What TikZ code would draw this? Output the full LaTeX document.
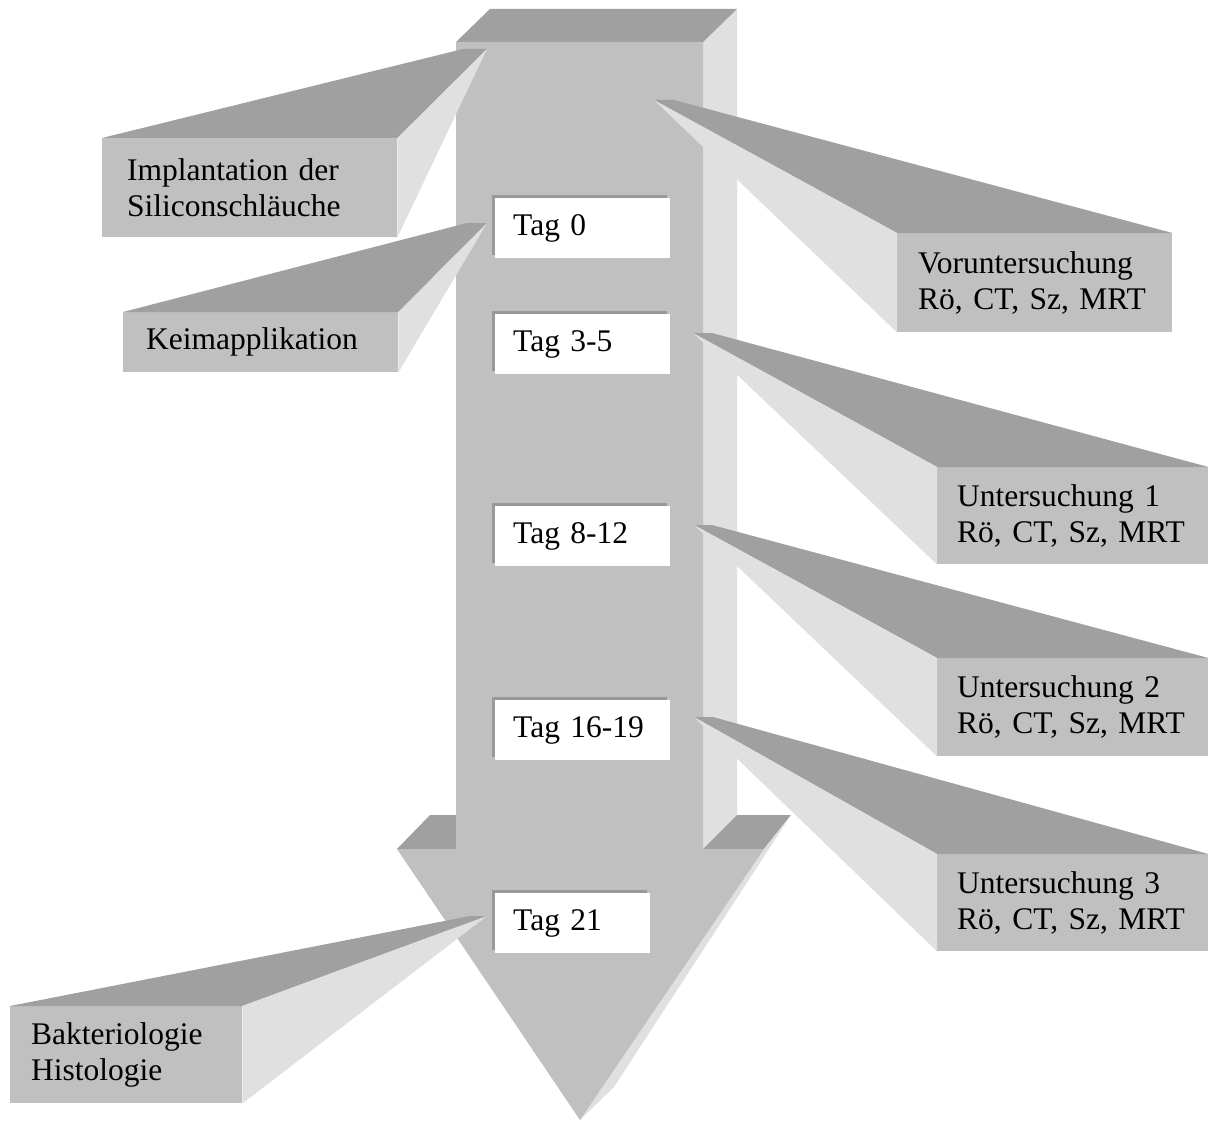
\documentclass[tikz,border=0pt]{standalone}
\usepackage{fontspec}
\setmainfont{Liberation Serif}
\usetikzlibrary{shadows}
\definecolor{frontgray}{HTML}{C0C0C0}
\definecolor{topgray}{HTML}{A0A0A0}
\definecolor{sidegray}{HTML}{E0E0E0}
\definecolor{edgegray}{HTML}{999999}

\begin{document}
\begin{tikzpicture}[
x=1pt, y=-1pt,
font=\fontsize{31.5}{36}\selectfont,
card/.style={rectangle, fill=frontgray, anchor=north west, inner xsep=21pt, inner ysep=0pt, align=left},
day/.style={rectangle, fill=white, anchor=north west, minimum height=60pt, inner xsep=18pt, inner ysep=0pt, align=left, general shadow={fill=edgegray, shadow xshift=-3pt, shadow yshift=3pt}},
topface/.style={fill=topgray},
sideface/.style={fill=sidegray}
]
\useasboundingbox (0,0) rectangle (1210,1121);

% the big arrow
\fill[sideface] (703,42) -- (737,9) -- (737,815) -- (703,849) -- cycle;
\fill[topface] (456,42) -- (490,9) -- (737,9) -- (703,42) -- cycle;
\fill[topface] (397,849) -- (430,815) -- (456,815) -- (456,849) -- cycle;
\fill[topface] (703,849) -- (737,815) -- (791,815) -- (764,849) -- cycle;
\fill[sideface] (764,849) -- (791,815) -- (614,1087) -- (580,1120) -- cycle;
\fill[frontgray] (456,42) -- (703,42) -- (703,849) -- (764,849) -- (580,1120) -- (397,849) -- (456,849) -- cycle;

% left callouts
\node[card, inner xsep=25pt, text width=245pt, minimum height=99pt] (impl) at (102,138) {Implantation der\\Siliconschläuche};
\coordinate (implF) at (487,49);
\fill[topface] (impl.north west) -- (impl.north east) -- (implF) -- ++(-24,0) -- cycle;
\fill[sideface] (impl.north east) -- (implF) -- (impl.south east) -- cycle;

\node[card, inner xsep=23pt, text width=229pt, minimum height=60pt] (keim) at (123,312) {Keimapplikation};
\coordinate (keimF) at (487,223);
\fill[topface] (keim.north west) -- (keim.north east) -- (keimF) -- ++(-20,0) -- cycle;
\fill[sideface] (keim.north east) -- (keimF) -- (keim.south east) -- cycle;

\node[card, text width=190pt, minimum height=97pt] (bakt) at (10,1006) {Bakteriologie\\Histologie};
\coordinate (baktF) at (487,916);
\fill[topface] (bakt.north west) -- (bakt.north east) -- (baktF) -- ++(-17,0) -- cycle;
\fill[sideface] (bakt.north east) -- (baktF) -- (bakt.south east) -- cycle;

% right callouts
\node[card, text width=233pt, minimum height=99pt] (vor) at (897,233) {Voruntersuchung\\Rö, CT, Sz, MRT};
\coordinate (vorF) at (654,100);
\fill[topface] (vorF) -- ++(20,0) -- (vor.north east) -- (vor.north west) -- cycle;
\fill[sideface] (vorF) -- (vor.north west) -- (vor.south west) -- cycle;

\node[card, inner xsep=20pt, text width=231pt, minimum height=97pt] (unt1) at (937,467) {Untersuchung 1\\Rö, CT, Sz, MRT};
\coordinate (unt1F) at (693,333);
\fill[topface] (unt1F) -- ++(19,0) -- (unt1.north east) -- (unt1.north west) -- cycle;
\fill[sideface] (unt1F) -- (unt1.north west) -- (unt1.south west) -- cycle;

\node[card, inner xsep=20pt, text width=231pt, minimum height=98pt] (unt2) at (937,658) {Untersuchung 2\\Rö, CT, Sz, MRT};
\coordinate (unt2F) at (694,525);
\fill[topface] (unt2F) -- ++(18,0) -- (unt2.north east) -- (unt2.north west) -- cycle;
\fill[sideface] (unt2F) -- (unt2.north west) -- (unt2.south west) -- cycle;

\node[card, inner xsep=20pt, text width=231pt, minimum height=97pt] (unt3) at (937,854) {Untersuchung 3\\Rö, CT, Sz, MRT};
\coordinate (unt3F) at (694,717);
\fill[topface] (unt3F) -- ++(19,0) -- (unt3.north east) -- (unt3.north west) -- cycle;
\fill[sideface] (unt3F) -- (unt3.north west) -- (unt3.south west) -- cycle;

% days
\node[day, text width=139pt] (tag0) at (495,198) {Tag 0};
\node[day, text width=139pt] (tag3) at (495,314) {Tag 3-5};
\node[day, text width=139pt] (tag8) at (495,506) {Tag 8-12};
\node[day, text width=139pt] (tag16) at (495,700) {Tag 16-19};
\node[day, text width=119pt] (tag21) at (495,893) {Tag 21};

\end{tikzpicture}
\end{document}
